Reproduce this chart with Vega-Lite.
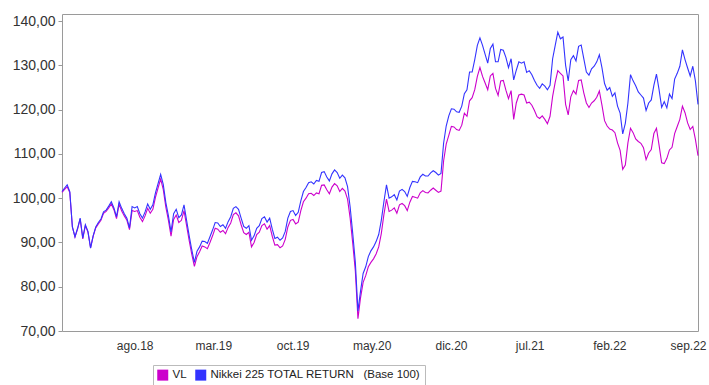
{
  "$schema": "https://vega.github.io/schema/vega-lite/v6.json",
  "width": 636,
  "height": 317,
  "autosize": {"type": "none"},
  "padding": {"left": 62, "top": 14, "right": 11, "bottom": 54},
  "background": "white",
  "config": {"view": {"stroke": "#9a9a9a", "strokeWidth": 1}, "font": "Liberation Sans"},
  "data": {"values": [
    {"d":"2018-01-17","A":101.3,"B":101.5},{"d":"2018-01-24","A":102,"B":102.3},{"d":"2018-01-31","A":102.6,"B":103},{"d":"2018-02-07","A":101.3,"B":101.5},
    {"d":"2018-02-14","A":93.5,"B":93.5},{"d":"2018-02-21","A":91.2,"B":91.3},{"d":"2018-02-28","A":93,"B":93.2},{"d":"2018-03-07","A":95.3,"B":95.5},
    {"d":"2018-03-14","A":90.8,"B":91},{"d":"2018-03-21","A":93.8,"B":94},{"d":"2018-03-28","A":92.3,"B":92.5},{"d":"2018-04-04","A":88.8,"B":88.7},
    {"d":"2018-04-11","A":91.4,"B":91.5},{"d":"2018-04-18","A":93.3,"B":93.5},{"d":"2018-04-25","A":94.2,"B":94.5},{"d":"2018-05-02","A":95,"B":95.3},
    {"d":"2018-05-09","A":96.6,"B":96.9},{"d":"2018-05-16","A":97,"B":97.3},{"d":"2018-05-23","A":97.8,"B":98.2},{"d":"2018-05-30","A":98.7,"B":99.2},
    {"d":"2018-06-06","A":97.4,"B":97.8},{"d":"2018-06-13","A":95.4,"B":95.8},{"d":"2018-06-20","A":98.6,"B":99.2},{"d":"2018-06-27","A":97.1,"B":97.7},
    {"d":"2018-07-04","A":96,"B":96.5},{"d":"2018-07-11","A":95,"B":95.5},{"d":"2018-07-18","A":92.9,"B":93.3},{"d":"2018-07-25","A":97.2,"B":98.1},
    {"d":"2018-08-01","A":97,"B":97.8},{"d":"2018-08-08","A":97.2,"B":98.1},{"d":"2018-08-15","A":95.7,"B":96.5},{"d":"2018-08-22","A":94.7,"B":95.5},
    {"d":"2018-08-29","A":96,"B":96.9},{"d":"2018-09-05","A":97.7,"B":98.7},{"d":"2018-09-12","A":96.6,"B":97.5},{"d":"2018-09-19","A":97.5,"B":98.5},
    {"d":"2018-09-26","A":100.2,"B":101.2},{"d":"2018-10-03","A":102.3,"B":103.3},{"d":"2018-10-10","A":104.3,"B":105.4},{"d":"2018-10-17","A":102,"B":103.1},
    {"d":"2018-10-24","A":98,"B":99},{"d":"2018-10-31","A":95,"B":96},{"d":"2018-11-07","A":91.4,"B":92.4},{"d":"2018-11-14","A":95.2,"B":96.5},
    {"d":"2018-11-21","A":96.2,"B":97.5},{"d":"2018-11-28","A":94.5,"B":95.6},{"d":"2018-12-05","A":95,"B":96.2},{"d":"2018-12-12","A":97.2,"B":98.5},
    {"d":"2018-12-19","A":93.8,"B":95},{"d":"2018-12-26","A":90.4,"B":91.5},{"d":"2019-01-02","A":87.3,"B":88.3},{"d":"2019-01-09","A":84.6,"B":85.5},
    {"d":"2019-01-16","A":86.8,"B":88},{"d":"2019-01-23","A":87.9,"B":89},{"d":"2019-01-30","A":89.2,"B":90.3},{"d":"2019-02-06","A":89,"B":90.2},
    {"d":"2019-02-13","A":88.6,"B":89.8},{"d":"2019-02-20","A":90,"B":91.3},{"d":"2019-02-27","A":91.5,"B":92.8},{"d":"2019-03-06","A":93.2,"B":94.5},
    {"d":"2019-03-13","A":93,"B":94.4},{"d":"2019-03-20","A":92.3,"B":93.6},{"d":"2019-03-27","A":92.7,"B":94},{"d":"2019-04-03","A":92,"B":93.2},
    {"d":"2019-04-10","A":93.4,"B":94.7},{"d":"2019-04-17","A":94.4,"B":95.8},{"d":"2019-04-24","A":96.3,"B":97.7},{"d":"2019-05-01","A":96.7,"B":98.1},
    {"d":"2019-05-08","A":96,"B":97.5},{"d":"2019-05-15","A":94,"B":95.5},{"d":"2019-05-22","A":92.2,"B":93.6},{"d":"2019-05-29","A":91.8,"B":93.2},
    {"d":"2019-06-05","A":92.3,"B":93.8},{"d":"2019-06-12","A":89,"B":90.5},{"d":"2019-06-19","A":90,"B":91.5},{"d":"2019-06-26","A":91.8,"B":93.2},
    {"d":"2019-07-03","A":92.3,"B":93.8},{"d":"2019-07-10","A":93.8,"B":95.4},{"d":"2019-07-17","A":94.2,"B":95.8},{"d":"2019-07-24","A":93,"B":94.6},
    {"d":"2019-07-31","A":93.8,"B":95.5},{"d":"2019-08-07","A":91.4,"B":93},{"d":"2019-08-14","A":89.4,"B":90.9},{"d":"2019-08-21","A":89.5,"B":91.2},
    {"d":"2019-08-28","A":88.8,"B":90.5},{"d":"2019-09-04","A":89.2,"B":91},{"d":"2019-09-11","A":90.7,"B":92.5},{"d":"2019-09-18","A":93.5,"B":95.5},
    {"d":"2019-09-25","A":95,"B":97},{"d":"2019-10-02","A":95.2,"B":97.2},{"d":"2019-10-09","A":94.2,"B":96.1},{"d":"2019-10-16","A":94.6,"B":96.8},
    {"d":"2019-10-23","A":97.2,"B":99.4},{"d":"2019-10-30","A":99.2,"B":101.5},{"d":"2019-11-06","A":100,"B":102.4},{"d":"2019-11-13","A":101,"B":103.5},
    {"d":"2019-11-20","A":101.1,"B":103.7},{"d":"2019-11-27","A":100.6,"B":103.2},{"d":"2019-12-04","A":101.2,"B":104},{"d":"2019-12-11","A":101,"B":103.8},
    {"d":"2019-12-18","A":102.9,"B":105.8},{"d":"2019-12-25","A":103,"B":106},{"d":"2020-01-01","A":101.9,"B":104.8},{"d":"2020-01-08","A":101,"B":103.9},
    {"d":"2020-01-15","A":102.5,"B":105.5},{"d":"2020-01-22","A":103.3,"B":106.4},{"d":"2020-01-29","A":102.8,"B":105.8},{"d":"2020-02-05","A":101.5,"B":104.5},
    {"d":"2020-02-12","A":102.2,"B":105.2},{"d":"2020-02-19","A":101.6,"B":104.6},{"d":"2020-02-26","A":99.8,"B":102.6},{"d":"2020-03-04","A":95.5,"B":98},
    {"d":"2020-03-11","A":89.8,"B":92},{"d":"2020-03-18","A":83.5,"B":85.5},{"d":"2020-03-25","A":72.8,"B":74.5},{"d":"2020-04-01","A":77.5,"B":79},
    {"d":"2020-04-08","A":81,"B":83},{"d":"2020-04-15","A":82.5,"B":84.5},{"d":"2020-04-22","A":84.5,"B":86.8},{"d":"2020-04-29","A":85.5,"B":88.1},
    {"d":"2020-05-06","A":86.3,"B":89},{"d":"2020-05-13","A":87.4,"B":90.2},{"d":"2020-05-20","A":89,"B":91.8},{"d":"2020-05-27","A":92,"B":95},
    {"d":"2020-06-03","A":96.3,"B":99.2},{"d":"2020-06-10","A":99.8,"B":103},{"d":"2020-06-17","A":97,"B":100},{"d":"2020-06-24","A":97.3,"B":100.3},
    {"d":"2020-07-01","A":97.8,"B":100.8},{"d":"2020-07-08","A":96.6,"B":99.6},{"d":"2020-07-15","A":98.5,"B":101.6},{"d":"2020-07-22","A":98.8,"B":102},
    {"d":"2020-07-29","A":98.3,"B":101.5},{"d":"2020-08-05","A":97.2,"B":100.4},{"d":"2020-08-12","A":99.1,"B":102.4},{"d":"2020-08-19","A":100.4,"B":103.8},
    {"d":"2020-08-26","A":100.2,"B":103.7},{"d":"2020-09-02","A":100,"B":103.5},{"d":"2020-09-09","A":101.2,"B":104.8},{"d":"2020-09-16","A":101.7,"B":105.4},
    {"d":"2020-09-23","A":101.3,"B":105},{"d":"2020-09-30","A":101.2,"B":105},{"d":"2020-10-07","A":101.8,"B":105.7},{"d":"2020-10-14","A":102.3,"B":106.2},
    {"d":"2020-10-21","A":101.8,"B":105.8},{"d":"2020-10-28","A":101.3,"B":105.2},{"d":"2020-11-04","A":101.6,"B":105.6},{"d":"2020-11-11","A":108.4,"B":112.4},
    {"d":"2020-11-18","A":112.2,"B":116.3},{"d":"2020-11-25","A":114.2,"B":118.6},{"d":"2020-12-02","A":116.2,"B":120.2},{"d":"2020-12-09","A":116.1,"B":120.1},
    {"d":"2020-12-16","A":115.5,"B":119.5},{"d":"2020-12-23","A":115.3,"B":119.4},{"d":"2020-12-30","A":116.5,"B":120.8},{"d":"2021-01-06","A":119.2,"B":123.6},
    {"d":"2021-01-13","A":118.5,"B":124.5},{"d":"2021-01-20","A":122,"B":128.5},{"d":"2021-01-27","A":122.7,"B":128.5},{"d":"2021-02-03","A":124.5,"B":131.3},
    {"d":"2021-02-10","A":127.5,"B":134.5},{"d":"2021-02-17","A":129.5,"B":136.2},{"d":"2021-02-24","A":127.5,"B":134.5},{"d":"2021-03-03","A":126,"B":132.5},
    {"d":"2021-03-10","A":124.5,"B":130.5},{"d":"2021-03-17","A":127.6,"B":133.8},{"d":"2021-03-24","A":128.2,"B":134.8},{"d":"2021-03-31","A":124.8,"B":130.8},
    {"d":"2021-04-07","A":123.2,"B":130.8},{"d":"2021-04-14","A":126.5,"B":133.6},{"d":"2021-04-21","A":126.6,"B":133.4},{"d":"2021-04-28","A":124.4,"B":131.8},
    {"d":"2021-05-05","A":122.5,"B":129.5},{"d":"2021-05-12","A":124.3,"B":131.5},{"d":"2021-05-19","A":117.8,"B":126.7},{"d":"2021-05-26","A":121.5,"B":128.9},
    {"d":"2021-06-02","A":123.3,"B":130.8},{"d":"2021-06-09","A":123.5,"B":130.5},{"d":"2021-06-16","A":123.3,"B":130.8},{"d":"2021-06-23","A":121.5,"B":128.4},
    {"d":"2021-06-30","A":121.7,"B":128.8},{"d":"2021-07-07","A":121,"B":127.9},{"d":"2021-07-14","A":119.8,"B":126.6},{"d":"2021-07-21","A":118.4,"B":125.5},
    {"d":"2021-07-28","A":118,"B":124.8},{"d":"2021-08-04","A":118.6,"B":125.8},{"d":"2021-08-11","A":117.8,"B":125.3},{"d":"2021-08-18","A":116.8,"B":124.5},
    {"d":"2021-08-25","A":118.5,"B":125.5},{"d":"2021-09-01","A":123,"B":131.5},{"d":"2021-09-08","A":126.2,"B":134.5},{"d":"2021-09-15","A":128.8,"B":137.5},
    {"d":"2021-09-22","A":128.2,"B":136},{"d":"2021-09-29","A":127.6,"B":136.4},{"d":"2021-10-06","A":121.2,"B":130},{"d":"2021-10-13","A":118.8,"B":126.5},
    {"d":"2021-10-20","A":122.9,"B":131.3},{"d":"2021-10-27","A":124.3,"B":132.2},{"d":"2021-11-03","A":123.5,"B":131},{"d":"2021-11-10","A":126.6,"B":134.3},
    {"d":"2021-11-17","A":126.7,"B":134.6},{"d":"2021-11-24","A":123.8,"B":131.5},{"d":"2021-12-01","A":121.5,"B":128.5},{"d":"2021-12-08","A":120.5,"B":127.8},
    {"d":"2021-12-15","A":121.5,"B":129.2},{"d":"2021-12-22","A":122,"B":129.8},{"d":"2021-12-29","A":122.8,"B":130.8},{"d":"2022-01-05","A":124.2,"B":132.4},
    {"d":"2022-01-12","A":121,"B":129.5},{"d":"2022-01-19","A":117.5,"B":125.9},{"d":"2022-01-26","A":116.3,"B":124.4},{"d":"2022-02-02","A":115.6,"B":125},
    {"d":"2022-02-09","A":115.4,"B":123},{"d":"2022-02-16","A":114.8,"B":123.8},{"d":"2022-02-23","A":112.5,"B":120.8},{"d":"2022-03-02","A":110.8,"B":119.2},
    {"d":"2022-03-09","A":106.5,"B":114.5},{"d":"2022-03-16","A":107.5,"B":116.9},{"d":"2022-03-23","A":112.5,"B":121.5},{"d":"2022-03-30","A":115.8,"B":127.9},
    {"d":"2022-04-06","A":114.8,"B":126.5},{"d":"2022-04-13","A":113.4,"B":125.4},{"d":"2022-04-20","A":112.8,"B":124},{"d":"2022-04-27","A":112.4,"B":123.3},
    {"d":"2022-05-04","A":111.4,"B":122.6},{"d":"2022-05-11","A":108.7,"B":119.8},{"d":"2022-05-18","A":110.2,"B":121.5},{"d":"2022-05-25","A":111,"B":122.2},
    {"d":"2022-06-01","A":114.6,"B":125.5},{"d":"2022-06-08","A":115.8,"B":128},{"d":"2022-06-15","A":112,"B":124.5},{"d":"2022-06-22","A":108,"B":120.5},
    {"d":"2022-06-29","A":107.8,"B":121.8},{"d":"2022-07-06","A":109,"B":120.4},{"d":"2022-07-13","A":110.9,"B":123.5},{"d":"2022-07-20","A":111.5,"B":122.5},
    {"d":"2022-07-27","A":114.6,"B":126.9},{"d":"2022-08-03","A":116.2,"B":128.2},{"d":"2022-08-10","A":117.8,"B":129.8},{"d":"2022-08-17","A":120.8,"B":133.5},
    {"d":"2022-08-24","A":119.3,"B":131.3},{"d":"2022-08-31","A":117,"B":129.4},{"d":"2022-09-07","A":115.5,"B":127.6},{"d":"2022-09-14","A":116.2,"B":129.8},
    {"d":"2022-09-21","A":113.3,"B":126.5},{"d":"2022-09-28","A":109.6,"B":121.2}
  ]},
  "transform": [{"fold": ["A", "B"], "as": ["s", "v"]}],
  "mark": {"type": "line", "strokeWidth": 1.1},
  "encoding": {
    "x": {
      "field": "d", "type": "temporal",
      "scale": {"type": "utc", "nice": false},
      "axis": {
        "title": null, "grid": false, "ticks": false, "domain": false,
        "values": [
          {"year": 2018, "month": 8, "date": 1, "utc": true},
          {"year": 2019, "month": 3, "date": 1, "utc": true},
          {"year": 2019, "month": 10, "date": 1, "utc": true},
          {"year": 2020, "month": 5, "date": 1, "utc": true},
          {"year": 2020, "month": 12, "date": 1, "utc": true},
          {"year": 2021, "month": 7, "date": 1, "utc": true},
          {"year": 2022, "month": 2, "date": 1, "utc": true},
          {"year": 2022, "month": 9, "date": 1, "utc": true}
        ],
        "labelExpr": "['ene','feb','mar','abr','may','jun','jul','ago','sep','oct','nov','dic'][utcmonth(datum.value)] + '.' + utcFormat(datum.value, '%y')",
        "labelFontSize": 12, "labelColor": "#333333", "labelPadding": 9, "labelOverlap": false, "labelFlush": false
      }
    },
    "y": {
      "field": "v", "type": "quantitative",
      "scale": {"domain": [70, 141.6], "nice": false, "zero": false},
      "axis": {
        "title": null, "grid": false, "domain": false,
        "values": [70, 80, 90, 100, 110, 120, 130, 140],
        "labelExpr": "replace(format(datum.value, '.2f'), '.', ',')",
        "tickSize": 4, "tickColor": "#999999",
        "labelFontSize": 14, "labelColor": "#333333", "labelPadding": 3
      }
    },
    "color": {
      "field": "s", "type": "nominal",
      "scale": {"domain": ["A", "B"], "range": ["#CC00CC", "#3333FF"]},
      "legend": {
        "orient": "none", "legendX": 91, "legendY": 351, "direction": "horizontal", "title": null,
        "symbolType": "square", "symbolSize": 121, "symbolStrokeWidth": 0,
        "labelFontSize": 11.5, "labelColor": "#222222", "labelLimit": 400,
        "strokeColor": "#bbbbbb", "padding": 4, "columnPadding": 8,
        "labelExpr": "datum.label == 'A' ? 'VL' : 'Nikkei 225 TOTAL RETURN\u00a0\u00a0\u00a0(Base 100)'",
        "encode": {"symbols": {"update": {"fill": {"scale": "color", "field": "value"}, "fillOpacity": {"value": 1}}}}
      }
    }
  }
}
